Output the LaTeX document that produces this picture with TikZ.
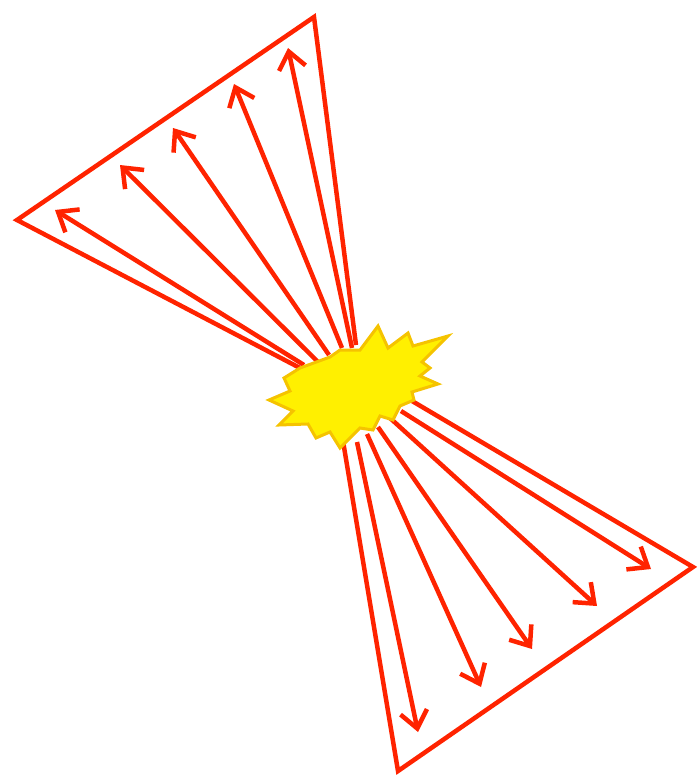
\documentclass[tikz,border=0pt]{standalone}
\usetikzlibrary{arrows.meta}
\definecolor{rayred}{RGB}{255,35,0}
\definecolor{burstyellow}{RGB}{255,240,0}
\definecolor{burstgold}{RGB}{245,195,0}
\begin{document}
\begin{tikzpicture}[x=1pt,y=-1pt,
    edge/.style={rayred, line width=4.5pt, line join=miter},
    ray/.style={rayred, line width=4.5pt, -{Straight Barb[length=17pt,width=27pt]}},
    burst/.style={fill=burstyellow, draw=burstgold, line width=3pt, line join=miter}
    ]
  \useasboundingbox (0,0) rectangle (698,781);

  % upper cone
  \coordinate (ul) at (300,368);
  \coordinate (ur) at (356,345);
  \coordinate (tl) at (17,220);
  \coordinate (tr) at (314,17);
  \draw[edge] (ul) -- (tl) -- (tr) -- (ur);
  \foreach \i/\s/\t in {1/{304,365}/{55,210}, 2/{318,362}/{120,165}, 3/{329,355}/{173,128},
                        4/{342,348}/{234,84}, 5/{352,348}/{288,48}}{
    \coordinate (us\i) at (\s);
    \coordinate (ut\i) at (\t);
    \draw[ray] (us\i) -- (ut\i);
  }

  % lower cone
  \coordinate (ll) at (342,435);
  \coordinate (lr) at (407,398);
  \coordinate (bb) at (398,771);
  \coordinate (br) at (693,567);
  \draw[edge] (ll) -- (bb) -- (br) -- (lr);
  \foreach \i/\s/\t in {1/{357,442}/{418,732}, 2/{367,434}/{481,687}, 3/{378,427}/{532,649},
                        4/{390,418}/{597,606}, 5/{401,411}/{651,569}}{
    \coordinate (ls\i) at (\s);
    \coordinate (lt\i) at (\t);
    \draw[ray] (ls\i) -- (lt\i);
  }

  % explosion
  \draw[burst] (300,368) -- (330,357) -- (340,350) -- (360,350) -- (378,326)
    -- (388,348) -- (408,333) -- (413,346) -- (448,336) -- (422,362)
    -- (430,368) -- (420,376) -- (438,384) -- (412,392) -- (414,400)
    -- (400,406) -- (393,420) -- (380,416) -- (373,430) -- (360,428)
    -- (340,448) -- (330,432) -- (316,438) -- (308,424) -- (279,425)
    -- (293,411) -- (269,400) -- (290,391) -- (284,378) -- cycle;
\end{tikzpicture}
\end{document}
